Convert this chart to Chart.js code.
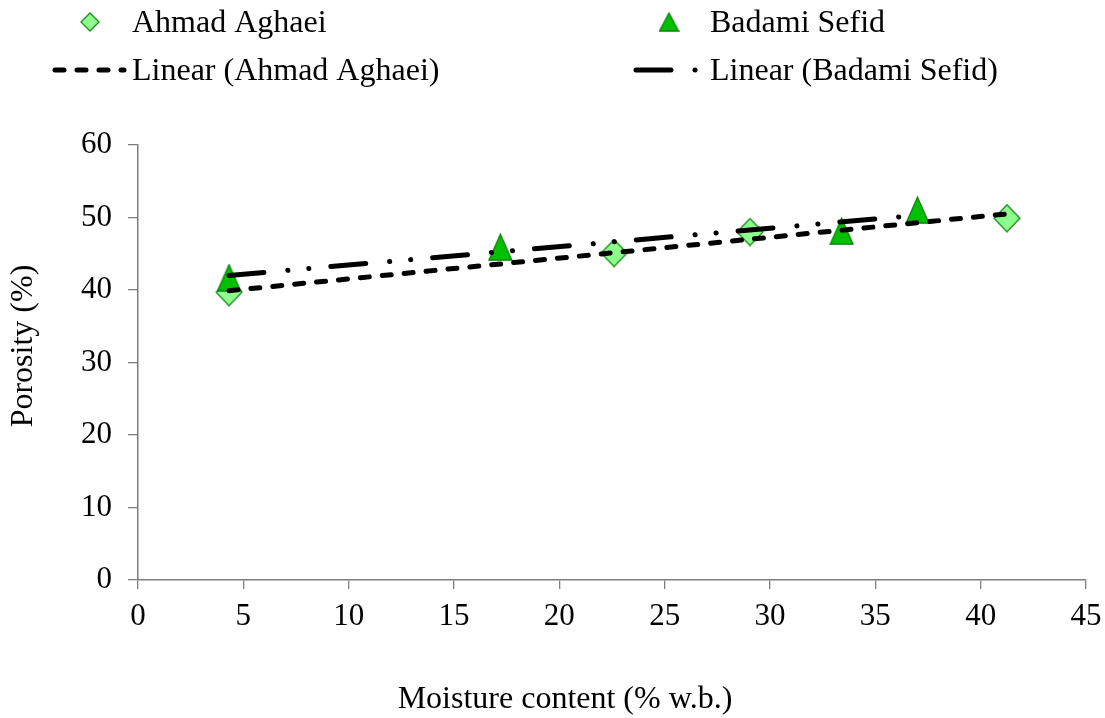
<!DOCTYPE html>
<html><head><meta charset="utf-8">
<script src="https://cdn.jsdelivr.net/npm/chart.js@4.4.0/dist/chart.umd.min.js"></script>
<style>html,body{margin:0;padding:0;background:#fff;}#wrap{position:relative;width:1105px;height:718px;}</style>
</head><body><div id="wrap"><canvas id="c" width="1105" height="718"></canvas></div>
<script>
// ---- data ----
const seriesNames = ['Ahmad Aghaei', 'Badami Sefid'];
const trendNames = ['Linear (Ahmad Aghaei)', 'Linear (Badami Sefid)'];
const ahmadX = [4.32, 22.6, 29.05, 41.25];
const ahmadY = [39.7, 45.1, 48.0, 49.9];
const badamiX = [4.32, 17.2, 33.4, 37.0];
const badamiY = [41.7, 45.9, 48.1, 51.0];
const ahmadTrendX = [4.32, 41.25];
const ahmadTrendY = [39.9, 50.5];
const badamiTrendX = [4.32, 37.0];
const badamiTrendY = [42.0, 50.3];
const xTicks = [0, 5, 10, 15, 20, 25, 30, 35, 40, 45];
const yTicks = [0, 10, 20, 30, 40, 50, 60];
const xTitle = 'Moisture content (% w.b.)';
const yTitle = 'Porosity (%)';

// ---- styling ----
const FONT = '"Liberation Serif", "Times New Roman", serif';
const diamondFill = '#8CFF8C', diamondStroke = '#1E8A1E';
const triFill = '#00C000', triStroke = '#0A800A';
const ahmadDash = [9, 13];
const badamiDash = [35, 24, 0.1, 21, 0.1, 22];

function makeDiamond(w, h) {
  const c = document.createElement('canvas');
  c.width = w + 2; c.height = h + 2;
  const g = c.getContext('2d');
  const cx = c.width / 2, cy = c.height / 2;
  g.beginPath();
  g.moveTo(cx, cy - h / 2); g.lineTo(cx + w / 2, cy); g.lineTo(cx, cy + h / 2); g.lineTo(cx - w / 2, cy); g.closePath();
  g.fillStyle = diamondFill; g.fill();
  g.lineWidth = 1.3; g.strokeStyle = diamondStroke; g.stroke();
  return c;
}
function makeTriangle(w, h) {
  const c = document.createElement('canvas');
  c.width = w + 2; c.height = h + 2;
  const g = c.getContext('2d');
  const cx = c.width / 2, cy = c.height / 2;
  g.beginPath();
  g.moveTo(cx, cy - h / 2); g.lineTo(cx + w / 2, cy + h / 2); g.lineTo(cx - w / 2, cy + h / 2); g.closePath();
  g.fillStyle = triFill; g.fill();
  g.lineWidth = 1.3; g.strokeStyle = triStroke; g.stroke();
  return c;
}
const diamondPt = makeDiamond(26, 27);
const triPt = makeTriangle(23, 26);
const diamondLeg = makeDiamond(18, 18);
const triLeg = makeTriangle(19, 18);

const zip = (xs, ys) => xs.map((x, i) => ({x: x, y: ys[i]}));

const legendPlugin = {
  id: 'customLegend',
  afterDraw(chart) {
    const ctx = chart.ctx;
    ctx.save();
    ctx.fillStyle = '#000';
    ctx.font = '32px ' + FONT;
    ctx.textBaseline = 'alphabetic';
    ctx.textAlign = 'left';
    // row 1: markers
    ctx.drawImage(diamondLeg, 90 - diamondLeg.width / 2, 22 - diamondLeg.height / 2);
    ctx.fillText(seriesNames[0], 132, 32);
    ctx.drawImage(triLeg, 669 - triLeg.width / 2, 22 - triLeg.height / 2);
    ctx.fillText(seriesNames[1], 710, 32);
    // row 2: trend lines
    ctx.strokeStyle = '#000'; ctx.lineWidth = 5; ctx.lineCap = 'round';
    ctx.setLineDash(ahmadDash);
    ctx.beginPath(); ctx.moveTo(55, 70); ctx.lineTo(124, 70); ctx.stroke();
    ctx.setLineDash(badamiDash);
    ctx.beginPath(); ctx.moveTo(636, 70); ctx.lineTo(700, 70); ctx.stroke();
    ctx.setLineDash([]);
    ctx.fillText(trendNames[0], 132, 80);
    ctx.fillText(trendNames[1], 710, 80);
    // axis titles
    ctx.textAlign = 'center';
    ctx.textBaseline = 'middle';
    ctx.fillText(xTitle, 565, 700);
    ctx.translate(24, 346);
    ctx.rotate(-Math.PI / 2);
    ctx.fillText(yTitle, 0, 0);
    ctx.restore();
  }
};

const axisGray = '#7f7f7f';
const noPad = s => { s.paddingLeft = 0; s.paddingRight = 0; s.paddingTop = 0; s.paddingBottom = 0; };
new Chart(document.getElementById('c'), {
  type: 'scatter',
  data: {
    datasets: [
      {label: trendNames[0], type: 'line', data: zip(ahmadTrendX, ahmadTrendY), borderColor: '#000', borderWidth: 5,
       borderDash: ahmadDash, borderCapStyle: 'round', pointRadius: 0, fill: false, order: 0},
      {label: trendNames[1], type: 'line', data: zip(badamiTrendX, badamiTrendY), borderColor: '#000', borderWidth: 5,
       borderDash: badamiDash, borderCapStyle: 'round', pointRadius: 0, fill: false, order: 1},
      {label: seriesNames[1], data: zip(badamiX, badamiY), pointStyle: triPt, pointRadius: 13, order: 2},
      {label: seriesNames[0], data: zip(ahmadX, ahmadY), pointStyle: diamondPt, pointRadius: 13, order: 3}
    ]
  },
  options: {
    responsive: false,
    animation: false,
    events: [],
    layout: {padding: {top: 145, right: 19, left: 0, bottom: 0}},
    plugins: {legend: {display: false}, tooltip: {enabled: false}, title: {display: false}},
    scales: {
      x: {
        type: 'linear', min: 0, max: 45,
        afterBuildTicks: s => { s.ticks = xTicks.map(v => ({value: v})); },
        afterFit: s => { s.height = 138; noPad(s); },
        ticks: {color: '#000', font: {family: FONT, size: 31}, padding: 9, maxRotation: 0},
        grid: {drawOnChartArea: false, drawTicks: true, tickLength: 9, color: axisGray, lineWidth: 1.3},
        border: {color: axisGray, width: 1.5}
      },
      y: {
        type: 'linear', min: 0, max: 60,
        afterBuildTicks: s => { s.ticks = yTicks.map(v => ({value: v})); },
        afterFit: s => { s.width = 138; noPad(s); },
        ticks: {color: '#000', font: {family: FONT, size: 31}, padding: 16},
        grid: {drawOnChartArea: false, drawTicks: true, tickLength: 10, color: axisGray, lineWidth: 1.3},
        border: {color: axisGray, width: 1.5}
      }
    }
  },
  plugins: [legendPlugin]
});
</script>
</body></html>
